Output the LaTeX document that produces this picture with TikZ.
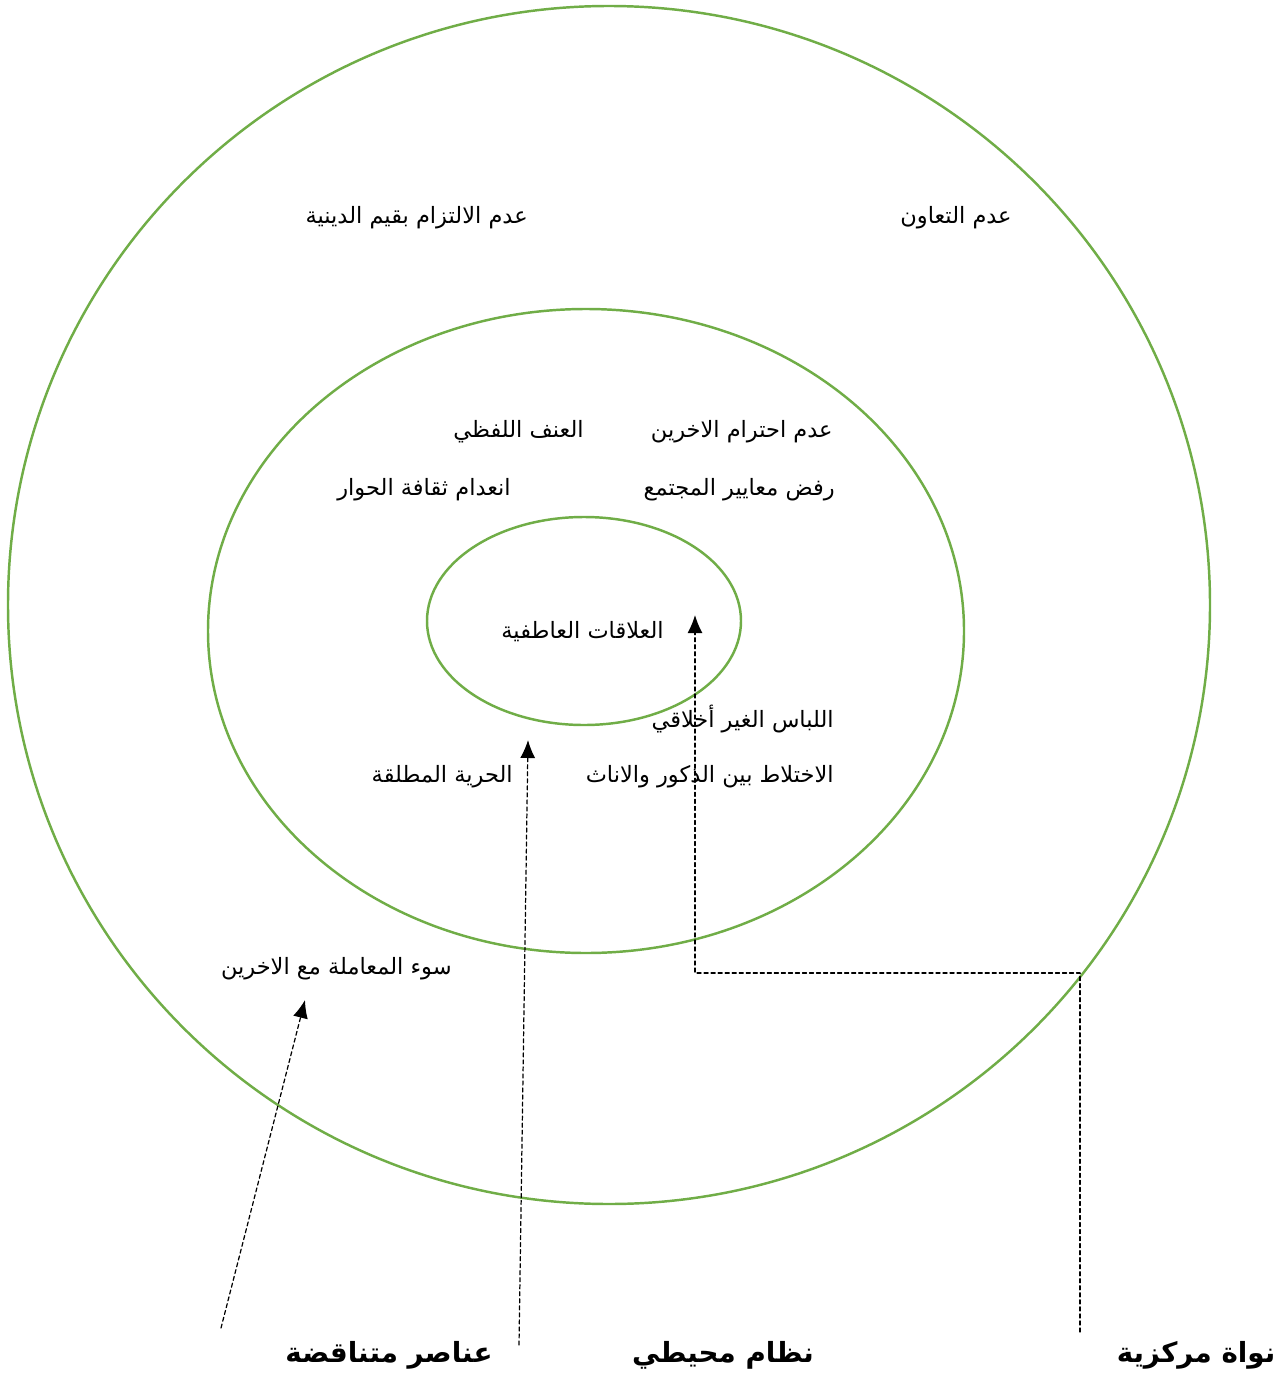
\documentclass[tikz,border=0pt]{standalone}
\usepackage{fontspec}
\usepackage{tikz}
\usetikzlibrary{arrows.meta, positioning, calc}
\TeXXeTstate=1
\newfontfamily\arabicfont[Script=Arabic]{DejaVu Sans}
\definecolor{ringgreen}{RGB}{112,173,71}
\begin{document}
\begin{tikzpicture}[x=0.02cm, y=-0.02cm, line cap=round, line join=round,
		ring/.style={draw=ringgreen, line width=1.4pt},
		item/.style={font=\arabicfont\fontsize{12.8}{14}\selectfont, inner sep=0pt, anchor=east},
		title/.style={font=\arabicfont\bfseries\fontsize{15.8}{19}\selectfont, inner sep=0pt},
		pointer/.style={dash pattern=on 2.3pt off 1.7pt, line width=0.7pt, -{Latex[length=3.6mm, width=3mm]}}]
	
	% --- Marco ---
	\useasboundingbox (0,0) rectangle (1280,1382);
	
	% --- Centros de los anillos ---
	\coordinate (outerc) at (609,605);
	\coordinate (midc) at (586,631);
	\coordinate (innerc) at (584,621);
	
	% --- Anillos ---
	\draw[ring] (outerc) ellipse [x radius=601, y radius=599];
	\draw[ring] (midc) ellipse [x radius=378, y radius=322];
	\draw[ring] (innerc) ellipse [x radius=157, y radius=104];
	
	% --- Textos del anillo exterior ---
	\node[item] (faith) at (528,218) {\beginR عدم الالتزام بقيم الدينية\endR};
	\node[item] (coop) at (1012,218) {\beginR عدم التعاون\endR};
	\node[item] (abuse) at (452,969) {\beginR سوء المعاملة مع الاخرين\endR};
	
	% --- Textos del anillo medio ---
	\node[item] (respect) at (833,432) {\beginR عدم احترام الاخرين\endR};
	\node[item] (verbal) at (584,432) {\beginR العنف اللفظي\endR};
	\node[item] (norms) at (835,490) {\beginR رفض معايير المجتمع\endR};
	\node[item] (dialog) at (511,490) {\beginR انعدام ثقافة الحوار\endR};
	\node[item] (dress) at (834,719) {\beginR اللباس الغير أخلاقي\endR};
	\node[item] (mixing) at (834,777) {\beginR الاختلاط بين الذكور والاناث\endR};
	\node[item] (freedom) at (513,777) {\beginR الحرية المطلقة\endR};
	
	% --- Núcleo ---
	\node[item] (core) at (664,632) {\beginR العلاقات العاطفية\endR};
	
	% --- Títulos inferiores ---
	\node[title] (opposed) at (389,1355) {\beginR عناصر متناقضة\endR};
	\node[title] (around) at (723,1355) {\beginR نظام محيطي\endR};
	\node[title] (nucleus) at (1196,1355) {\beginR نواة مركزية\endR};
	
	% --- Flechas ---
	\coordinate (opposedtail) at (221,1328);
	\coordinate (opposedhead) at (305,1000);
	\draw[pointer] (opposedtail) -- (opposedhead);
	
	\coordinate (aroundtail) at (519,1345);
	\coordinate (aroundhead) at (528,740);
	\draw[pointer] (aroundtail) -- (aroundhead);
	
	\coordinate (nucleustail) at (1080,1332);
	\coordinate (bend) at (1080,973);
	\coordinate (nucleushead) at (695,615);
	\draw[pointer] (nucleustail) -- (bend) -| (nucleushead);
	
\end{tikzpicture}
\end{document}
